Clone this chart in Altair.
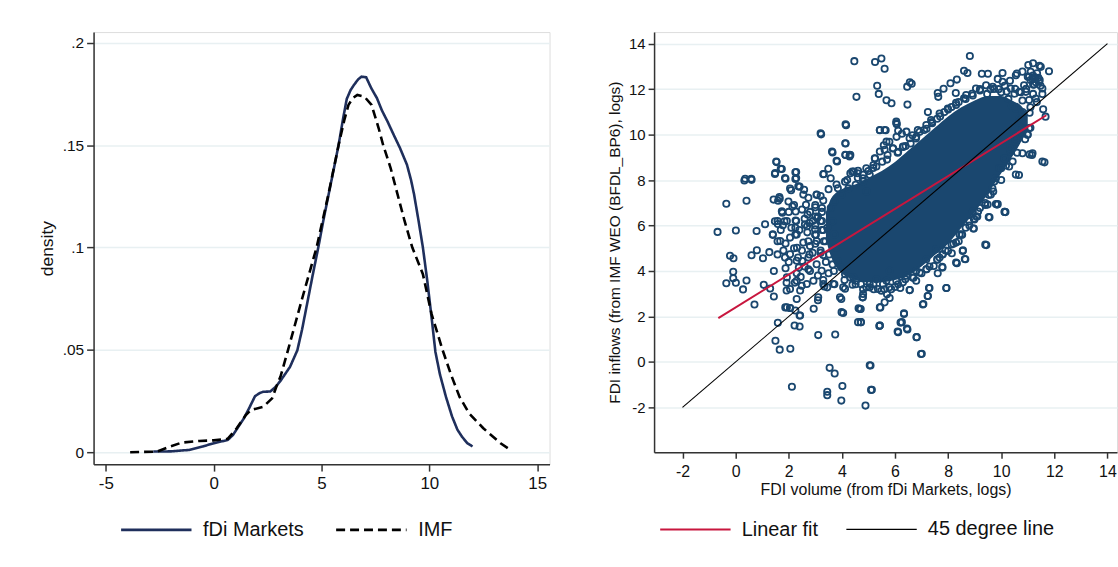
import altair as alt
import pandas as pd

FONT = "Liberation Sans"
NAVY_LINE = "#1f2f5c"
NAVY_PT = "#1a476f"
FIT_RED = "#c8163e"

# ---------------- Left panel: kernel densities ----------------
fdi_x = [-2.8, -2.0, -1.15, -0.5, 0.0, 0.66, 0.9, 1.15, 1.4, 1.64, 1.92, 2.15, 2.3, 2.63, 2.88,
         3.12, 3.54, 3.88, 4.1, 4.36, 4.6, 4.85, 5.1, 5.35, 5.6, 5.79, 6.0, 6.17, 6.35, 6.5,
         6.7, 6.85, 7.07, 7.3, 7.57, 7.8, 8.06, 8.35, 8.64, 8.96, 9.15, 9.29, 9.5, 9.7, 9.9,
         10.1, 10.28, 10.49, 10.77, 11.05, 11.3, 11.51, 11.75, 12.0]
fdi_d = [0.0003, 0.0004, 0.0011, 0.0028, 0.0044, 0.006, 0.0085, 0.0125, 0.0165, 0.0214, 0.0274,
         0.029, 0.0295, 0.0297, 0.032, 0.0352, 0.0417, 0.0498, 0.060, 0.074, 0.087, 0.100, 0.114,
         0.127, 0.140, 0.150, 0.163, 0.1726, 0.177, 0.1794, 0.1822, 0.1835, 0.1832, 0.178, 0.173,
         0.167, 0.1616, 0.155, 0.1486, 0.1405, 0.133, 0.126, 0.113, 0.100, 0.084, 0.066, 0.049,
         0.038, 0.027, 0.0175, 0.011, 0.0076, 0.0045, 0.0028]

imf_x = [-3.87, -2.63, -2.14, -1.48, -0.66, 0.0, 0.66, 1.07, 1.48, 1.73, 2.3, 2.71, 2.96, 3.1,
         3.45, 4.1, 4.77, 5.3, 5.79, 6.05, 6.25, 6.45, 6.66, 6.99, 7.32, 7.65, 7.86, 8.2, 8.5,
         8.85, 9.21, 9.7, 10.1, 10.61, 11.0, 11.4, 11.84, 12.5, 13.3, 13.8]
imf_d = [0.0, 0.0003, 0.0023, 0.0047, 0.0055, 0.0058, 0.0066, 0.0117, 0.018, 0.0206, 0.0222,
         0.0263, 0.0335, 0.037, 0.050, 0.075, 0.100, 0.125, 0.150, 0.162, 0.1697, 0.173, 0.1746,
         0.1737, 0.1697, 0.1583, 0.150, 0.139, 0.127, 0.113, 0.100, 0.087, 0.0676, 0.050, 0.038,
         0.027, 0.019, 0.0117, 0.0044, 0.0008]

dens = pd.concat([
    pd.DataFrame({"x": fdi_x, "d": fdi_d, "series": "fDi Markets", "o": range(len(fdi_x))}),
    pd.DataFrame({"x": imf_x, "d": imf_d, "series": "IMF", "o": range(len(imf_x))}),
])

# ---------------- Right panel: scatter ----------------
# individually readable circles (x = fDi Markets, y = IMF)
sx = [-0.68, -0.35, -0.21, -0.08, 0.01, -0.09, -0.09, -0.35, 0.01, 0.28, 0.41, 0.33, 0.60, 0.41,
      0.60, 0.79, 0.80, 0.71, 1.03, 1.06, 1.11, 1.30, 1.27, 1.44, 1.44, 1.40, 1.48, 1.54, 1.60,
      1.66, 1.74, 1.76, 1.59, 1.48, 1.58, 1.58, 1.59, 1.50, 1.66, 1.88, 1.78, 1.84, 1.88, 1.88,
      1.92, 1.92, 1.87, 2.05, 1.99, 2.09, 2.14, 2.25, 2.25, 2.26, 2.26, 2.25, 2.25, 2.31, 2.35,
      2.38, 2.23, 2.25, 2.41, 2.22, 2.41, 2.06, 2.12, 2.49, 2.45, 2.51, 2.41, 2.58, 2.65, 2.71,
      2.69, 2.78, 2.74, 2.78, 2.74, 2.94, 3.05, 3.07, 3.02, 3.10, 3.11, 3.22, 3.32, 3.25, 3.32,
      3.34, 3.45, 3.54, 3.73, 3.45, 3.45, 3.65, 3.82, 3.72, 3.75, 3.58, 3.98, 4.02, 3.98, 4.05,
      4.12, 4.16, 4.14, 4.14, 4.29, 4.32, 4.47, 4.55, 4.52, 4.63, 4.72, 4.79, 4.89, 5.08, 5.13,
      5.25, 5.25, 5.33, 5.39, 5.49, 5.61, 5.68, 5.87, 5.43, 5.65, 5.43, 5.45, 5.70, 5.58, 6.07,
      6.12, 6.12, 6.26, 6.34, 6.47, 6.46, 6.56, 6.63, 6.47, 6.56, 6.82, 7.01, 7.07, 7.24, 7.30,
      7.24, 7.61, 7.63, 7.94, 7.79, 8.33, 8.63, 8.56, 8.60, 8.73, 8.82, 8.33, 8.29, 8.09, 7.83,
      9.44, 9.56, 8.97, 8.97, 9.13, 9.87, 10.16, 9.27, 9.50, 10.05, 10.59, 10.67, 10.80, 11.07,
      11.16, 11.63, 11.67, 11.58, 11.55, 11.48, 11.80, 11.44, 11.20, 11.02, 10.80, 10.58, 11.0,
      11.07, 10.67,
      1.43, 1.65, 2.05, 2.36, 2.55, 2.74, 3.05, 3.30, 1.74, 1.58, 1.93, 2.28, 2.61, 2.99, 1.40,
      1.68, 2.05, 2.30, 2.55, 2.80, 3.05, 1.86, 2.05, 2.30, 2.74, 3.05, 3.24, 1.93, 2.30, 2.43,
      2.05, 2.30, 1.93, 2.05, 2.43, 2.68, 2.93, 3.11, 3.30, 3.68, 4.05, 3.99, 4.68, 4.61, 5.43,
      3.93, 4.43, 4.80, 5.05, 5.55, 5.36, 5.80,
      5.18, 5.43, 5.68, 5.93, 6.05, 6.30, 6.55, 6.86, 7.18, 7.36, 7.68, 7.99, 8.30, 8.68, 9.05,
      9.43, 9.68, 10.05, 10.36, 10.68, 10.55, 10.86, 11.05, 11.18, 11.30, 11.43, 11.24, 11.55,
      11.11, 11.49, 10.93, 11.30, 11.05, 10.55, 10.80, 11.05, 10.80, 10.55, 10.36, 10.11, 9.93,
      9.74, 9.61, 9.49, 9.80, 10.13, 10.55, 10.43, 10.18, 10.99, 11.55, 11.18, 4.80, 5.05, 4.93,
      5.24, 5.61, 5.43, 5.61, 6.05, 6.43,
      8.93, 8.99, 8.95, 8.55, 8.30, 8.65, 8.14, 8.43, 7.93, 7.78, 7.61, 7.68, 7.28, 7.23, 7.05,
      6.55, 6.80, 7.18, 6.34, 6.21, 6.10, 6.45, 6.81, 6.98, 5.41, 5.43, 5.61, 5.80, 5.49, 5.86,
      6.20, 4.78, 4.71, 4.71, 5.05, 5.10, 5.30, 9.40, 9.53, 9.84, 10.13, 8.30, 7.80, 7.55, 7.18,
      6.80, 6.43, 6.05, 5.68, 5.05,
      4.14, 3.20, 4.13, 3.63, 3.80, 4.13, 4.30, 1.53, 1.70, 1.49, 2.28, 2.28, 1.86, 3.30, 3.49,
      4.45, 4.61, 4.80, 0.36, 0.59,
      4.39, 4.59, 4.79, 4.92, 5.19, 5.52, 5.72, 5.92, 6.12, 6.32, 6.59, 6.79, 6.93, 6.66, 7.19,
      6.06, 6.26, 5.79, 7.39, 7.59, 7.86, 8.13, 8.40, 8.66, 8.93, 9.20, 9.47, 9.73, 10.00, 10.27,
      10.40, 10.13, 9.87, 10.33, 10.53, 10.74, 10.94, 11.20, 11.34,
      10.53, 10.33, 10.13, 10.0, 9.80, 9.67, 9.53, 9.40, 9.20, 9.06, 8.80, 8.66, 8.53, 8.40, 8.13,
      8.0, 7.79, 7.59, 7.46, 7.19, 6.93, 6.66, 6.39, 6.12, 5.79, 10.80, 10.67, 10.80,
      3.58, 3.65, 3.72, 3.78, 3.85, 3.98, 4.12, 4.32, 4.52, 4.72, 4.92, 5.19, 3.45, 3.38, 3.52,
      3.65, 3.72, 3.98, 4.25, 4.52, 3.85, 4.12, 4.32,
      # mid-density group left of the cloud
      2.0, 2.2, 2.5, 2.8, 3.0, 2.6, 2.9, 3.1, 2.1, 2.4, 2.7, 3.0, 2.2, 2.5, 2.9, 3.2, 2.0, 2.6,
      2.8, 3.1, 2.3, 1.8, 1.7, 3.3, 3.2, 3.4, 3.5, 3.3,
      # dense knot at the upper right
      11.1, 11.2, 11.3, 11.4, 11.2, 11.35, 11.0, 11.45, 11.25]
sy = [5.72, 6.96, 4.67, 4.56, 5.78, 3.97, 3.68, 3.46, 3.48, 3.19, 3.58, 7.98, 8.01, 7.09,
      4.69, 5.76, 4.91, 2.53, 4.56, 3.39, 6.06, 3.23, 4.83, 2.88, 4.00, 5.59, 8.27, 8.79, 7.09,
      7.18, 8.49, 6.56, 6.07, 6.19, 5.31, 4.73, 1.72, 0.93, 0.54, 8.06, 6.01, 6.19, 5.21, 4.12,
      3.48, 3.14, 2.40, 2.37, 7.06, 7.55, 6.84, 8.34, 8.05, 6.62, 6.22, 5.90, 5.60, 5.02, 4.59,
      4.15, 3.49, 2.26, 2.04, 1.60, 1.56, 0.58, -1.09, 3.35, 3.74, 4.44, 7.71, 7.57, 6.91, 6.48,
      5.97, 6.11, 5.31, 4.73, 4.08, 2.34, 7.35, 6.33, 5.60, 2.71, 1.18, 10.01, 8.27, 6.77, 5.31,
      3.32, 3.28, -0.26, -0.51, -1.31, -1.46, 9.21, 8.82, 3.42, 1.21, 8.08, -1.70, -1.06, 2.77,
      2.15, 3.22, 10.41, 9.61, 9.10, 9.04, 9.10, 13.23, 11.66, 3.42, 2.36, 1.75, 2.84, -1.92,
      -0.16, -1.22, 8.95, 13.19, 12.15, 11.79, 13.35, 12.90, 11.51, 11.38, 10.19, 10.19, 1.60,
      2.40, 2.98, 9.53, 10.45, 10.17, 1.31, 1.75, 2.11, 1.43, 12.11, 12.30, 12.24, 11.32, 3.16,
      1.09, 0.36, 2.55, 2.90, 3.25, 10.99, 11.83, 11.66, 3.25, 4.15, 4.34, 4.53, 4.91, 12.81,
      12.71, 13.46, 12.42, 11.83, 12.26, 12.02, 5.14, 6.36, 5.87, 6.30, 6.62, 6.94, 6.59, 12.68,
      12.68, 12.71, 12.69, 8.22, 9.18, 9.13, 9.10, 8.78, 10.79, 11.11, 11.79, 12.15, 12.79,
      13.03, 13.14, 13.06, 12.77, 10.0, 10.0, 10.96, 10.70,
      7.14, 7.25, 7.63, 7.73, 7.36, 7.22, 7.36, 7.10, 6.63, 6.20, 6.20, 6.20, 6.05, 5.83, 5.61,
      5.32, 5.47, 5.61, 5.25, 5.10, 5.32, 4.59, 4.74, 4.45, 4.59, 4.30, 4.01, 3.72, 3.57, 3.14,
      3.21, 2.77, 2.40, 2.37, 2.04, 3.43, 3.57, 2.84, 3.43, 3.43, 3.28, 2.19, 2.33, 1.75, 1.60,
      2.84, 3.72, 2.99, 3.43, 3.43, 3.21, 4.01,
      8.53, 9.26, 9.69, 9.40, 10.50, 9.47, 9.84, 10.20, 10.42, 10.64, 10.93, 11.15, 11.30, 11.74,
      12.03, 12.17, 12.10, 12.32, 12.03, 11.88, 12.61, 12.17, 12.54, 12.44, 12.50, 12.32, 12.20,
      12.03, 12.76, 12.98, 11.88, 11.59, 11.52, 11.15, 10.71, 10.28, 10.06, 9.69, 9.26, 8.96,
      8.53, 7.94, 7.36, 6.92, 6.95, 6.60, 8.24, 8.82, 8.64, 9.99, 8.82, 9.18, 7.94, 8.23, 7.50,
      8.96, 9.33, 10.20, 10.20, 10.57, 10.13,
      6.63, 6.27, 5.87, 4.88, 4.37, 4.52, 4.78, 5.61, 3.25, 4.18, 3.90, 4.59, 3.25, 2.90, 2.53,
      3.16, 3.57, 4.08, 2.14, 1.73, 1.34, 1.47, 1.09, 0.35, 1.58, 2.40, 2.62, 2.81, 3.13, 3.20,
      3.25, 2.84, 2.33, 1.75, -0.15, -1.23, 3.64, 5.16, 6.37, 6.92, 6.60, 5.25, 4.74, 4.96, 4.52,
      4.01, 3.79, 3.57, 3.57, 3.28,
      10.45, 10.06, 9.62, 9.26, 8.85, 9.11, 9.11, 8.82, 8.50, 8.31, 8.35, 8.09, 8.09, 8.26, 8.50,
      8.38, 8.41, 8.23, 8.06, 8.06,
      8.37, 8.30, 8.08, 8.52, 8.66, 8.81, 9.10, 9.39, 9.24, 9.46, 9.61, 9.83, 10.12, 9.97, 10.26,
      9.90, 10.04, 9.68, 10.55, 10.70, 10.99, 11.21, 11.43, 11.57, 11.72, 11.94, 11.79, 12.01,
      11.86, 11.57, 11.28, 12.15, 12.45, 12.37, 12.01, 11.86, 12.01, 11.79, 11.43,
      9.83, 9.39, 8.95, 8.52, 8.08, 7.64, 7.35, 6.99, 6.77, 6.40, 6.19, 5.90, 5.60, 5.31, 5.17,
      4.88, 4.73, 4.51, 4.22, 4.08, 3.93, 3.71, 3.64, 3.42, 3.28, 10.26, 10.55, 10.99,
      6.77, 6.19, 5.60, 5.02, 4.44, 4.15, 3.86, 3.71, 3.57, 3.42, 3.28, 3.42, 5.90, 5.31, 4.73,
      4.29, 7.06, 7.35, 7.64, 7.79, 7.64, 7.93, 8.30,
      6.6, 6.9, 6.7, 6.6, 6.9, 6.3, 6.2, 6.4, 5.9, 5.8, 5.7, 5.6, 5.0, 4.9, 4.8, 4.9, 4.4, 4.2,
      4.0, 3.8, 3.9, 4.9, 5.8, 5.8, 6.2, 4.4, 3.9, 3.6,
      12.4, 12.6, 12.3, 12.5, 12.2, 12.7, 12.55, 12.4, 12.45]

# circles crowding the edge of the solid core
edge_x = [3.3, 3.7, 4.1, 4.4, 4.8, 5.2, 5.6, 6.0, 6.3, 6.7, 7.0, 7.3, 7.6, 7.9, 8.2, 8.5, 8.8,
          9.1, 9.4, 9.7, 10.0, 10.3, 10.6, 10.9, 11.1,
          3.2, 3.5, 3.8, 4.2, 4.6, 5.0, 5.3, 5.7, 6.1, 6.4, 6.8, 7.1, 7.4, 7.7, 8.0, 8.3, 8.6,
          8.9, 9.2, 9.6, 9.9, 10.2, 10.5, 10.8, 11.1,
          3.0, 3.0, 3.0, 3.0, 3.0, 3.2, 3.25, 3.25, 3.25]
edge_y = [4.7, 4.0, 3.6, 3.4, 3.2, 3.2, 3.2, 3.3, 3.5, 3.7, 3.9, 4.2, 4.5, 4.9, 5.2, 5.6, 6.0,
          6.4, 6.9, 7.5, 8.0, 8.6, 9.2, 9.8, 10.3,
          7.3, 7.6, 7.8, 8.0, 8.1, 8.4, 8.6, 8.9, 9.2, 9.5, 9.9, 10.2, 10.5, 10.8, 11.1, 11.4,
          11.6, 11.8, 12.0, 12.0, 12.0, 11.9, 11.8, 11.5, 11.2,
          5.2, 5.6, 6.0, 6.4, 6.8, 4.8, 5.8, 6.2, 6.6]

# fully overplotted core of the cloud (lower / upper edge of the solid region)
core_x = [3.4, 3.6, 4.0, 4.5, 5.0, 5.5, 6.0, 6.5, 7.0, 7.5, 8.0, 8.5, 9.0, 9.5, 10.0, 10.4, 10.8, 11.0]
core_lo = [5.4, 4.6, 3.9, 3.6, 3.5, 3.5, 3.6, 3.8, 4.2, 4.7, 5.2, 5.9, 6.6, 7.4, 8.3, 9.0, 9.8, 10.3]
core_hi = [6.6, 7.2, 7.6, 7.8, 8.1, 8.4, 8.8, 9.3, 9.8, 10.3, 10.8, 11.2, 11.5, 11.7, 11.7, 11.5, 11.2, 10.8]

fit_x = [-0.65, 11.7]
fit_y = [1.93, 10.85]
deg_x = [-2, 14]
deg_y = [-2, 14]

scatter = pd.DataFrame({"x": sx + edge_x, "y": sy + edge_y})
core = pd.DataFrame({"x": core_x, "lo": core_lo, "hi": core_hi})
lines = pd.concat([
    pd.DataFrame({"x": fit_x, "y": fit_y, "series": "Linear fit"}),
    pd.DataFrame({"x": deg_x, "y": deg_y, "series": "45 degree line"}),
])

AX = dict(domainColor="#333333", domainWidth=1.5, tickColor="#333333", tickWidth=1.5,
          labelColor="#111111", labelFont=FONT, titleFont=FONT, titleColor="#111111",
          titleFontWeight="normal", gridColor="#e8f0f2", gridWidth=1.5)

LEG = dict(direction="horizontal", orient="none", columns=2, title=None, symbolType="stroke",
           symbolSize=5000, symbolStrokeWidth=2.6, labelFont=FONT, labelFontSize=20,
           labelColor="#111111", labelOffset=10, labelLimit=300, legendY=463)

PLAIN = "'' + datum.value"

# ---------------- Left chart ----------------
lx = alt.X("x:Q", scale=alt.Scale(domain=[-5.565, 15.57], nice=False, zero=False),
           axis=alt.Axis(values=[-5, 0, 5, 10, 15], grid=False, title=None, labelFontSize=17,
                         labelExpr=PLAIN, tickSize=7, labelPadding=4, **AX))
ly = alt.Y("d:Q", scale=alt.Scale(domain=[-0.00583, 0.2053], nice=False, zero=False),
           axis=alt.Axis(values=[0, 0.05, 0.1, 0.15, 0.2], grid=True, title="density",
                         labelExpr="datum.value == 0 ? '0' : replace(format(datum.value, '.2~f'), '0.', '.')",
                         labelFontSize=15.5, titleFontSize=17.5, tickSize=7, labelPadding=3,
                         titlePadding=6, **AX))
left = alt.Chart(dens).mark_line(strokeWidth=2.6, clip=True).encode(
    x=lx, y=ly,
    order="o:Q",
    color=alt.Color("series:N", scale=alt.Scale(domain=["fDi Markets", "IMF"], range=[NAVY_LINE, "#000000"]),
                    legend=alt.Legend(legendX=26, columnPadding=26, **LEG)),
    strokeDash=alt.StrokeDash("series:N", scale=alt.Scale(domain=["fDi Markets", "IMF"], range=[[1, 0], [9, 5]]),
                              legend=alt.Legend(legendX=26, columnPadding=26, **LEG)),
).properties(width=458, height=434)

# ---------------- Right chart ----------------
rxs = alt.Scale(domain=[-3.07, 14.36], nice=False, zero=False)
rys = alt.Scale(domain=[-3.97, 14.51], nice=False, zero=False)
rx_axis = alt.Axis(values=list(range(-2, 15, 2)), grid=False, title="FDI volume (from fDi Markets, logs)",
                   labelExpr=PLAIN, labelFontSize=16, titleFontSize=16, tickSize=6, labelPadding=5,
                   titlePadding=2, **AX)
ry_axis = alt.Axis(values=list(range(-2, 15, 2)), grid=True, title="FDI inflows (from IMF WEO (BFDL_BP6), logs)",
                   labelExpr=PLAIN, labelFontSize=15, titleFontSize=15.5, tickSize=6, labelPadding=3,
                   titlePadding=6, **AX)

core_layer = alt.Chart(core).mark_area(color=NAVY_PT, opacity=1, clip=True, interpolate="monotone").encode(
    x=alt.X("x:Q", scale=rxs, axis=rx_axis),
    y=alt.Y("lo:Q", scale=rys, axis=ry_axis),
    y2="hi:Q",
)
pts = alt.Chart(scatter).mark_point(shape="circle", filled=False, size=40, strokeWidth=1.8,
                                    color=NAVY_PT, opacity=1, clip=True).encode(
    x=alt.X("x:Q", scale=rxs, axis=rx_axis),
    y=alt.Y("y:Q", scale=rys, axis=ry_axis),
)
line_layer = alt.Chart(lines).mark_line(clip=True).encode(
    x=alt.X("x:Q", scale=rxs, axis=rx_axis),
    y=alt.Y("y:Q", scale=rys, axis=ry_axis),
    color=alt.Color("series:N", scale=alt.Scale(domain=["Linear fit", "45 degree line"], range=[FIT_RED, "#000000"]),
                    legend=alt.Legend(legendX=5, columnPadding=25, **LEG)),
    strokeWidth=alt.StrokeWidth("series:N", scale=alt.Scale(domain=["Linear fit", "45 degree line"], range=[2.0, 1.1]),
                                legend=None),
)
right = alt.layer(core_layer, pts, line_layer).properties(width=465, height=422)

chart = alt.hconcat(left, right, spacing=56).resolve_scale(
    color="independent", strokeDash="independent", strokeWidth="independent"
).properties(
    padding={"left": 37, "top": 30, "right": 0, "bottom": 0}
).configure_view(stroke=None).configure(background="white")

chart.save("out.html", embed_options={"renderer": "svg", "actions": False})
